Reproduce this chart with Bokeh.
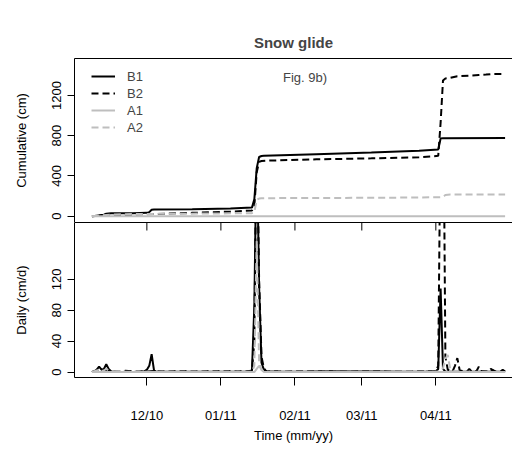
import pandas as pd
from bokeh.plotting import figure
from bokeh.models import (Range1d, FixedTicker, DatetimeAxis, DatetimeTickFormatter,
                          Legend, LegendItem, Label)
from bokeh.layouts import column
from bokeh.embed import file_html
from bokeh.resources import INLINE

FONT = "Liberation Sans"

# ---------------- data ----------------
month_ticks = ["2010-12-01", "2011-01-01", "2011-02-01", "2011-03-01", "2011-04-01"]
cum_ticks = [0, 400, 800, 1200]
daily_ticks = [0, 40, 80, 120]

# cumulative glide (cm)
b1_cum_dates = ["2010-11-08", "2010-11-10", "2010-11-11", "2010-11-13", "2010-11-14", "2010-11-16",
                "2010-11-25", "2010-12-01", "2010-12-02", "2010-12-03", "2010-12-04", "2010-12-20",
                "2011-01-05", "2011-01-14", "2011-01-15", "2011-01-16", "2011-01-17", "2011-01-18",
                "2011-01-19", "2011-02-10", "2011-03-05", "2011-03-25", "2011-04-02", "2011-04-03",
                "2011-04-04", "2011-04-30"]
b1_cum = [0, 3, 10, 14, 24, 28, 30, 33, 40, 63, 66, 70, 75, 85, 168, 478, 588, 598, 600, 615,
          632, 650, 662, 772, 776, 778]

b2_cum_dates = ["2010-11-08", "2010-11-15", "2010-11-25", "2010-12-05", "2010-12-20", "2011-01-05",
                "2011-01-14", "2011-01-15", "2011-01-16", "2011-01-17", "2011-01-18", "2011-01-20",
                "2011-02-10", "2011-03-05", "2011-03-25", "2011-04-02", "2011-04-03", "2011-04-04",
                "2011-04-05", "2011-04-07", "2011-04-10", "2011-04-15", "2011-04-19", "2011-04-22",
                "2011-04-25", "2011-04-30"]
b2_cum = [0, 8, 15, 22, 33, 45, 57, 97, 437, 540, 548, 552, 565, 575, 586, 600, 930, 1350,
          1370, 1375, 1392, 1398, 1404, 1408, 1414, 1415]

a1_cum_dates = ["2010-11-08", "2011-04-30"]
a1_cum = [0, 0]

a2_cum_dates = ["2010-11-08", "2010-11-12", "2010-11-16", "2010-11-22", "2010-12-05", "2010-12-25",
                "2011-01-14", "2011-01-15", "2011-01-16", "2011-01-17", "2011-01-18", "2011-01-20",
                "2011-02-15", "2011-03-15", "2011-04-03", "2011-04-04", "2011-04-05", "2011-04-06",
                "2011-04-07", "2011-04-30"]
a2_cum = [0, 8, 15, 20, 23, 26, 30, 40, 162, 175, 178, 179, 181, 184, 188, 193, 210, 214, 215, 216]

# daily glide (cm/d)
b1_day_dates = ["2010-11-08", "2010-11-09", "2010-11-10", "2010-11-11", "2010-11-12", "2010-11-13",
                "2010-11-14", "2010-11-15", "2010-11-16", "2010-11-18", "2010-11-22", "2010-11-23",
                "2010-11-24", "2010-11-28", "2010-11-30", "2010-12-01", "2010-12-02", "2010-12-03",
                "2010-12-04", "2010-12-05", "2010-12-12", "2010-12-20", "2010-12-28", "2011-01-05",
                "2011-01-12", "2011-01-14", "2011-01-15", "2011-01-16", "2011-01-17", "2011-01-18",
                "2011-01-19", "2011-01-20", "2011-01-25", "2011-02-05", "2011-02-15", "2011-02-25",
                "2011-03-08", "2011-03-18", "2011-03-28", "2011-04-01", "2011-04-02", "2011-04-03",
                "2011-04-04", "2011-04-05", "2011-04-12", "2011-04-20", "2011-04-24", "2011-04-25",
                "2011-04-26", "2011-04-28", "2011-04-29", "2011-04-30"]
b1_day = [0, 1, 3, 7, 3, 4, 10, 4, 1, 0.5, 0, 1, 0, 0.3, 1, 3, 8, 23, 2, 0.3, 0.2, 0.5, 0.3,
          0.5, 0.8, 2, 85, 310, 110, 12, 3, 1, 0.8, 0.5, 1, 0.6, 0.8, 0.5, 0.7, 1, 4, 108, 4,
          0.5, 0.3, 0.5, 0.8, 2, 0.5, 0.3, 3, 0.5]

b2_day_dates = ["2010-11-08", "2010-11-10", "2010-11-12", "2010-11-14", "2010-11-16", "2010-11-20",
                "2010-11-22", "2010-11-26", "2010-12-01", "2010-12-03", "2010-12-08", "2010-12-15",
                "2010-12-22", "2011-01-01", "2011-01-08", "2011-01-13", "2011-01-14", "2011-01-15",
                "2011-01-16", "2011-01-17", "2011-01-18", "2011-01-19", "2011-01-20", "2011-01-28",
                "2011-02-08", "2011-02-20", "2011-03-02", "2011-03-12", "2011-03-22", "2011-03-30",
                "2011-04-01", "2011-04-02", "2011-04-03", "2011-04-04", "2011-04-05", "2011-04-06",
                "2011-04-08", "2011-04-09", "2011-04-10", "2011-04-11", "2011-04-14", "2011-04-15",
                "2011-04-16", "2011-04-18", "2011-04-19", "2011-04-20", "2011-04-23", "2011-04-24",
                "2011-04-26", "2011-04-30"]
b2_day = [0, 1, 0.5, 2, 1, 0.5, 1.5, 0.5, 0.8, 1.2, 0.6, 1, 0.7, 1, 0.8, 1, 1.5, 40, 340, 120,
          20, 5, 1, 0.5, 0.7, 0.4, 0.6, 0.5, 0.5, 0.8, 1, 8, 330, 420, 20, 3, 1, 8, 18, 2, 0.5,
          4, 0.5, 1, 7, 1, 0.5, 4, 0.5, 0.3]

a1_day_dates = ["2010-11-08", "2011-01-15", "2011-01-16", "2011-01-17", "2011-01-18",
                "2011-01-19", "2011-04-30"]
a1_day = [0, 0, 4, 8, 3, 0, 0]

a2_day_dates = ["2010-11-08", "2010-11-10", "2010-11-11", "2010-11-12", "2010-11-13", "2010-11-14",
                "2010-11-15", "2010-11-16", "2010-11-18", "2010-11-20", "2010-11-25", "2010-12-05",
                "2010-12-15", "2010-12-25", "2011-01-05", "2011-01-14", "2011-01-15", "2011-01-16",
                "2011-01-17", "2011-01-18", "2011-01-19", "2011-01-21", "2011-02-01", "2011-02-15",
                "2011-03-01", "2011-03-15", "2011-04-01", "2011-04-03", "2011-04-04", "2011-04-05",
                "2011-04-06", "2011-04-07", "2011-04-08", "2011-04-15", "2011-04-30"]
a2_day = [0, 2, 3, 1, 2, 4, 2, 1, 1, 0.5, 0.3, 0.3, 0.2, 0.3, 0.2, 0.5, 8, 170, 12, 3, 1,
          0.3, 0.1, 0.2, 0.1, 0.1, 0.2, 1, 5, 17, 22, 4, 1, 0.2, 0.1]

series_names = ["B1", "B2", "A1", "A2"]
series_colors = ["black", "black", "#BEBEBE", "#BEBEBE"]
series_dash = ["solid", "7 4", "solid", "7 4"]

# ---------------- layout ----------------
W = 512
FRAME_LEFT = 74
TOP_H, BOT_H = 222, 234
BOT_FRAME_H = 155
TICK_LEN = 8


def ms(d):
    return pd.Timestamp(d).value / 1e6


x_start = pd.Timestamp("2010-12-01") - pd.Timedelta(days=30.3)
x_end = x_start + pd.Timedelta(days=183.4)
xr = Range1d(start=ms(x_start), end=ms(x_end))
tick_ms = [ms(d) for d in month_ticks]
fmt = "%m/%y"
formatter = DatetimeTickFormatter(microseconds=fmt, milliseconds=fmt, seconds=fmt, minsec=fmt,
                                  minutes=fmt, hourmin=fmt, hours=fmt, days=fmt, months=fmt,
                                  years=fmt)


def style_yaxis(ax, ticks, label):
    ax.ticker = FixedTicker(ticks=ticks)
    ax.major_label_orientation = "vertical"
    ax.major_tick_out = 7
    ax.major_tick_in = 0
    ax.minor_tick_out = 0
    ax.minor_tick_in = 0
    ax.major_label_standoff = 6
    ax.major_label_text_font = FONT
    ax.major_label_text_font_size = "13px"
    ax.major_label_text_color = "black"
    ax.axis_label = label
    ax.axis_label_text_font = FONT
    ax.axis_label_text_font_size = "13px"
    ax.axis_label_text_font_style = "normal"
    ax.axis_label_text_color = "black"
    ax.axis_label_standoff = 21
    ax.axis_line_color = "black"
    ax.major_tick_line_color = "black"


def frame_line_axis():
    # an axis without ticks, used only for its line along the frame's top edge
    ax = DatetimeAxis(ticker=FixedTicker(ticks=[]), formatter=formatter)
    ax.major_tick_in = 0
    ax.major_tick_out = 0
    ax.minor_tick_in = 0
    ax.minor_tick_out = 0
    ax.major_label_standoff = 0
    ax.axis_line_color = "black"
    return ax


# ---- top panel: cumulative ----
p1 = figure(width=W, height=TOP_H, x_range=xr, y_range=Range1d(-63, 1568),
            x_axis_type="datetime", x_axis_location=None,
            output_backend="svg", toolbar_location=None,
            min_border_left=FRAME_LEFT, min_border_right=0, min_border_top=58, min_border_bottom=0)
p1.outline_line_color = None
p1.grid.visible = False
p1.add_layout(frame_line_axis(), "above")
style_yaxis(p1.yaxis[0], cum_ticks, "Cumulative (cm)")
p1.title.text = "Snow glide"
p1.title.align = "center"
p1.title.text_font = FONT
p1.title.text_font_size = "15px"
p1.title.text_font_style = "bold"
p1.title.standoff = 15

cum_dates = [b1_cum_dates, b2_cum_dates, a1_cum_dates, a2_cum_dates]
cum_vals = [b1_cum, b2_cum, a1_cum, a2_cum]
items = []
for name, d, v, c, dash in zip(series_names, cum_dates, cum_vals, series_colors, series_dash):
    r = p1.line(pd.to_datetime(d), v, line_color=c, line_width=2, line_dash=dash)
    items.append(LegendItem(label=name, renderers=[r]))

legend = Legend(items=items, location=(17, 87), border_line_color=None,
                background_fill_alpha=0, label_text_font=FONT, label_text_font_size="13px",
                glyph_width=24, glyph_height=16, label_height=16, spacing=1, padding=0,
                margin=0, label_standoff=12)
p1.add_layout(legend)

p1.add_layout(Label(x=ms("2011-01-27"), y=1382, text="Fig. 9b)", text_font=FONT,
                    text_font_size="13px", text_baseline="middle", text_align="left"))

# ---- bottom panel: daily ----
y2 = Range1d(-7.1, 193.5)
p2 = figure(width=W, height=BOT_H, x_range=xr, y_range=y2,
            x_axis_type="datetime", x_axis_location=None,
            output_backend="svg", toolbar_location=None,
            min_border_left=FRAME_LEFT, min_border_right=0, min_border_top=0,
            min_border_bottom=BOT_H - BOT_FRAME_H)
p2.outline_line_color = None
p2.grid.visible = False
p2.add_layout(frame_line_axis(), "above")
style_yaxis(p2.yaxis[0], daily_ticks, "Daily (cm/d)")

xa = DatetimeAxis(ticker=FixedTicker(ticks=tick_ms), formatter=formatter)
xa.major_tick_out = TICK_LEN
xa.major_tick_in = 0
xa.minor_tick_out = 0
xa.minor_tick_in = 0
xa.major_label_standoff = 22
xa.major_label_text_font = FONT
xa.major_label_text_font_size = "13px"
xa.major_label_text_color = "black"
xa.axis_label = "Time (mm/yy)"
xa.axis_label_text_font = FONT
xa.axis_label_text_font_size = "13px"
xa.axis_label_text_font_style = "normal"
xa.axis_label_text_color = "black"
xa.axis_label_standoff = 2
xa.axis_line_color = "black"
xa.major_tick_line_color = "black"
p2.add_layout(xa, "below")

# inward month ticks hanging from the shared panel boundary
tick_depth = TICK_LEN * (y2.end - y2.start) / BOT_FRAME_H
p2.segment(x0=pd.to_datetime(month_ticks), y0=y2.end, x1=pd.to_datetime(month_ticks),
           y1=y2.end - tick_depth, line_color="black", line_width=1)

day_dates = [b1_day_dates, b2_day_dates, a1_day_dates, a2_day_dates]
day_vals = [b1_day, b2_day, a1_day, a2_day]
for d, v, c, dash in zip(day_dates, day_vals, series_colors, series_dash):
    p2.line(pd.to_datetime(d), v, line_color=c, line_width=2, line_dash=dash)

layout = column(p1, p2, spacing=0)
open("out.html", "w").write(file_html(layout, INLINE))
